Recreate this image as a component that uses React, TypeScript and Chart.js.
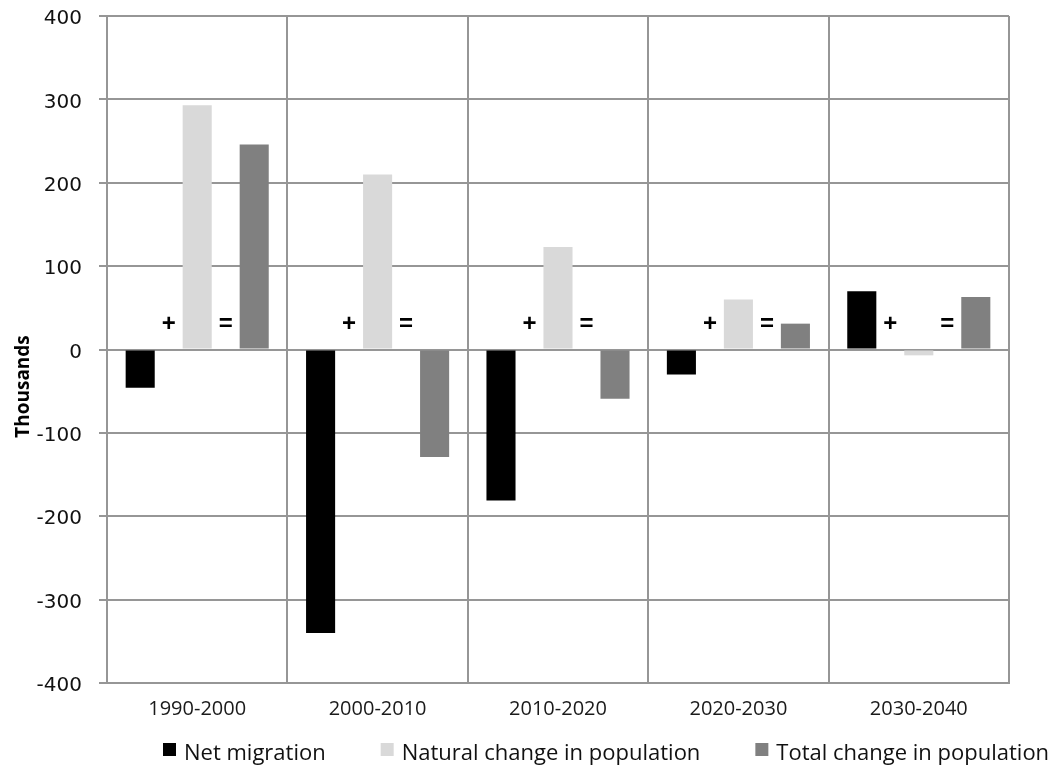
import React, { useEffect, useRef } from 'react';
import { Chart, registerables } from 'chart.js';

Chart.register(...registerables);

// ---- data ----
const categories = ['1990-2000', '2000-2010', '2010-2020', '2020-2030', '2030-2040'];
const netMigration = [-46, -340, -181, -30, 70];
const naturalChange = [293, 210, 123, 60, -7];
const totalChange = [246, -129, -59, 31, 63];
const seriesLabels = ['Net migration', 'Natural change in population', 'Total change in population'];
const seriesColors = ['#000000', '#d9d9d9', '#808080'];
const operatorSigns = ['+', '='];
const yMin = -400;
const yMax = 400;
const yStep = 100;
const yAxisTitle = 'Thousands';

const GRID = '#969696';

const operatorPlugin = {
  id: 'operatorSigns',
  afterDatasetsDraw(chart: any) {
    const ctx = chart.ctx;
    const yScale = chart.scales.y;
    const y = yScale.getPixelForValue(0) - 25;
    ctx.save();
    ctx.font = "bold 24px 'Liberation Sans', Arial, sans-serif";
    ctx.fillStyle = '#000';
    ctx.textAlign = 'center';
    ctx.textBaseline = 'middle';
    categories.forEach((_, j) => {
      operatorSigns.forEach((sign, k) => {
        const a = chart.getDatasetMeta(k).data[j];
        const b = chart.getDatasetMeta(k + 1).data[j];
        if (a && b) ctx.fillText(sign, (a.x + b.x) / 2, y);
      });
    });
    ctx.restore();
  },
};

const yTitlePlugin = {
  id: 'yTitle',
  afterDraw(chart: any) {
    const ctx = chart.ctx;
    const area = chart.chartArea;
    ctx.save();
    ctx.translate(29, (area.top + area.bottom) / 2 + 37);
    ctx.rotate(-Math.PI / 2);
    ctx.font = "bold 19px 'Open Sans', sans-serif";
    ctx.fillStyle = '#000';
    ctx.textAlign = 'center';
    ctx.textBaseline = 'alphabetic';
    ctx.fillText(yAxisTitle, 0, 0);
    ctx.restore();
  },
};

const legendPlugin = {
  id: 'customLegend',
  afterDraw(chart: any) {
    const ctx = chart.ctx;
    ctx.save();
    ctx.font = "22px 'Open Sans', sans-serif";
    ctx.textAlign = 'left';
    ctx.textBaseline = 'alphabetic';
    const box = 13;
    const boxGap = 8;
    const itemGap = 55;
    let x = 163;
    const baseline = 760;
    chart.data.datasets.forEach((ds: any) => {
      ctx.fillStyle = ds.backgroundColor;
      ctx.fillRect(x, 743, box, box);
      ctx.fillStyle = '#111';
      const tx = x + box + boxGap;
      ctx.fillText(ds.label, tx, baseline);
      x = tx + ctx.measureText(ds.label).width + itemGap;
    });
    ctx.restore();
  },
};

export default function App() {
  const ref = useRef<HTMLCanvasElement | null>(null);

  useEffect(() => {
    if (!ref.current) return;
    const seriesValues = [netMigration, naturalChange, totalChange];
    const chart = new Chart(ref.current, {
      type: 'bar',
      data: {
        labels: categories,
        datasets: seriesValues.map((vals, i) => ({
          label: seriesLabels[i],
          data: vals,
          backgroundColor: seriesColors[i],
          borderWidth: 0,
          categoryPercentage: 0.948,
          barPercentage: 0.51,
        })),
      },
      options: {
        responsive: false,
        animation: false,
        layout: { padding: { left: 0, right: 45, top: 16, bottom: 30 } },
        plugins: {
          legend: { display: false },
          tooltip: { enabled: false },
        },
        scales: {
          x: {
            grid: { offset: true, color: GRID, lineWidth: 2, drawTicks: false },
            border: { display: true, color: GRID, width: 2 },
            ticks: {
              font: { family: "'Open Sans', sans-serif", size: 20 },
              color: '#1a1a1a',
              padding: 14,
              maxRotation: 0,
            },
          },
          y: {
            min: yMin,
            max: yMax,
            grid: { color: GRID, lineWidth: 2, tickLength: 8 },
            border: { display: true, color: GRID, width: 2 },
            ticks: {
              stepSize: yStep,
              font: { family: "'DejaVu Sans', sans-serif", size: 20 },
              color: '#111',
              padding: 17,
              labelOffset: 3,
            },
            afterFit: (s: any) => {
              s.width = 107;
              s.paddingTop = 0;
              s.paddingBottom = 0;
            },
          },
        },
      },
      plugins: [operatorPlugin, yTitlePlugin, legendPlugin],
    });
    return () => chart.destroy();
  }, []);

  return (
    <div style={{ position: 'absolute', left: 0, top: 0, width: 1054, height: 765, background: '#fff' }}>
      <canvas ref={ref} width={1054} height={765} style={{ display: 'block' }} />
    </div>
  );
}
